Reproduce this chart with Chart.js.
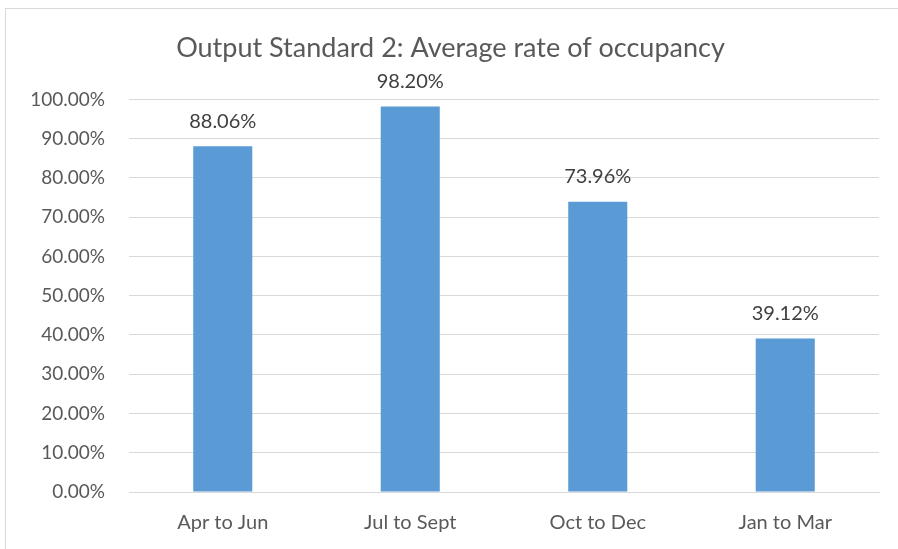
<!DOCTYPE html>
<html>
<head>
<meta charset="utf-8">
<script src="https://cdn.jsdelivr.net/npm/chart.js@4.4.1/dist/chart.umd.min.js"></script>
<style>
  html, body { margin: 0; padding: 0; background: #fff; overflow: hidden; }
  #frame {
    position: absolute; left: 5px; top: 8px; width: 900px; height: 560px;
    border: 1px solid #d9d9d9; box-sizing: border-box;
  }
  #wrap { position: absolute; left: 0; top: 0; width: 898px; height: 549px; }
</style>
</head>
<body>
<div id="frame"></div>
<div id="wrap"><canvas id="chart" width="898" height="549"></canvas></div>
<script>
const categories = ["Apr to Jun", "Jul to Sept", "Oct to Dec", "Jan to Mar"];
const occupancy = [88.06, 98.2, 73.96, 39.12];
const yTicks = [0, 10, 20, 30, 40, 50, 60, 70, 80, 90, 100];

const FONT = "Lato, 'Open Sans', sans-serif";

const barLabels = {
  id: "barLabels",
  afterDatasetsDraw(chart) {
    const ctx = chart.ctx;
    const meta = chart.getDatasetMeta(0);
    ctx.save();
    ctx.font = "20px " + FONT;
    ctx.fillStyle = "#404040";
    ctx.textAlign = "center";
    ctx.textBaseline = "bottom";
    meta.data.forEach((bar, i) => {
      ctx.fillText(occupancy[i].toFixed(2) + "%", bar.x, bar.y - 15);
    });
    ctx.restore();
  },
};

new Chart(document.getElementById("chart"), {
  type: "bar",
  data: {
    labels: categories,
    datasets: [
      {
        data: occupancy,
        backgroundColor: "#5b9bd5",
        categoryPercentage: 1,
        barPercentage: 0.315,
      },
    ],
  },
  options: {
    responsive: false,
    animation: false,
    layout: { padding: { left: 22, right: 19, bottom: 0, top: 0 } },
    plugins: {
      legend: { display: false },
      tooltip: { enabled: false },
      title: {
        display: true,
        text: "Output Standard 2: Average rate of occupancy",
        color: "#595959",
        font: { family: FONT, size: 27, weight: "normal" },
        padding: { top: 32, bottom: 35 },
      },
    },
    scales: {
      x: {
        grid: { display: false },
        border: { color: "#d9d9d9" },
        ticks: { color: "#595959", font: { family: FONT, size: 20 }, padding: 11 },
        afterFit(scale) { scale.height = 57; },
      },
      y: {
        min: 0,
        max: 100,
        afterBuildTicks(scale) { scale.ticks = yTicks.map((v) => ({ value: v })); },
        grid: { color: "#d9d9d9", drawTicks: false },
        border: { display: false },
        ticks: {
          color: "#595959",
          font: { family: FONT, size: 19 },
          padding: 24,
          callback: (v) => v.toFixed(2) + "%",
        },
        afterFit(scale) { scale.width = 107; },
      },
    },
  },
  plugins: [barLabels],
});
</script>
</body>
</html>
